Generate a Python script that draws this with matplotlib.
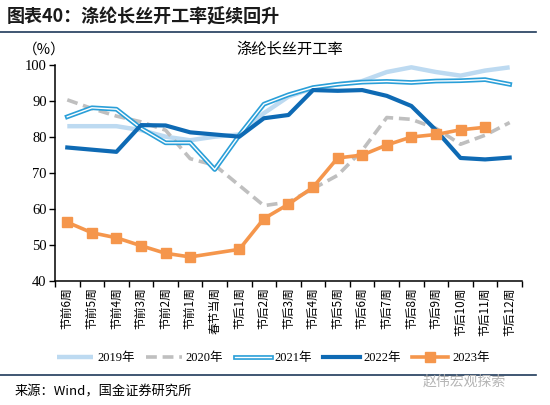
import numpy as np
import matplotlib
matplotlib.use('Agg')
import matplotlib.pyplot as plt
import matplotlib.patheffects as pe
from matplotlib.lines import Line2D

plt.rcParams['font.family'] = ['Liberation Serif', 'Noto Sans CJK SC', 'DejaVu Sans']

weeks = ['节前6周', '节前5周', '节前4周', '节前3周', '节前2周', '节前1周', '春节当周',
         '节后1周', '节后2周', '节后3周', '节后4周', '节后5周', '节后6周', '节后7周',
         '节后8周', '节后9周', '节后10周', '节后11周', '节后12周']
y2019 = [83.0, 83.0, 83.0, 81.9, 80.1, 79.1, 80.1, 80.7, 86.6, 91.2, 93.5, 94.6,
         95.5, 98.0, 99.3, 98.0, 97.0, 98.4, 99.3]
y2020 = [90.3, 87.9, 85.8, 84.2, 81.9, 74.0, 72.2, 66.6, 61.0, 62.0, 65.7, 69.4,
         76.3, 85.4, 84.9, 82.4, 78.0, 80.5, 84.0]
y2021 = [85.6, 88.1, 87.7, 82.4, 78.4, 78.4, 71.0, 80.5, 89.1, 91.7, 93.7, 94.6,
         95.2, 95.4, 95.1, 95.5, 95.6, 95.9, 94.6]
y2022 = [77.1, 76.5, 75.9, 83.3, 83.2, 81.3, 80.7, 80.1, 85.2, 86.1, 93.0, 92.8,
         93.0, 91.4, 88.6, 81.9, 74.2, 73.8, 74.3]
y2023 = [56.4, 53.5, 52.1, 49.9, 47.8, 46.8, np.nan, 48.9, 57.4, 61.4, 66.1, 74.2,
         75.0, 77.8, 80.0, 80.7, 82.0, 82.7, np.nan]

x = np.arange(len(weeks))

fig = plt.figure(figsize=(5.5, 4.05), dpi=100)
ax = fig.add_axes([0.1, 0.305, 0.849, 0.535])

ax.plot(x, y2019, color='#BDDAF1', lw=3.2, label='2019年', solid_capstyle='butt')
ax.plot(x, y2020, color='#BFBFBF', lw=2.6, ls=(0, (3, 1.6)), label='2020年')
ax.plot(x, y2021, color='white', lw=1.0, label='2021年',
        path_effects=[pe.Stroke(linewidth=3.4, foreground='#2A9FD8'), pe.Normal()])
ax.plot(x, y2022, color='#0E6AB4', lw=3.0, label='2022年')
a23 = np.array(y2023)
ok = ~np.isnan(a23)
ax.plot(x[ok], a23[ok], color='#F5964C', lw=2.6, marker='s', ms=7, label='2023年')

ax.set_xlim(-0.5, len(weeks) - 0.5)
ax.set_ylim(40, 100)
ax.set_yticks(range(40, 101, 10))
ax.set_xticks(x)
ax.set_xticklabels(weeks, rotation=90, fontsize=8.5, family=['Noto Sans CJK SC'])
ax.set_xticks(np.arange(-0.5, len(weeks), 1), minor=True)
ax.tick_params(axis='x', which='major', length=0, pad=4)
ax.tick_params(axis='x', which='minor', length=4, direction='out', width=1)
ax.tick_params(axis='y', length=4, direction='out', width=1, labelsize=10.5, pad=2)
for s in ['top', 'right']:
    ax.spines[s].set_visible(False)
for s in ['left', 'bottom']:
    ax.spines[s].set_linewidth(1.1)

fig.text(0.042, 0.877, '（%）', fontsize=10.5, va='center', family=['Noto Sans CJK SC'])
fig.text(0.527, 0.877, '涤纶长丝开工率', fontsize=11, ha='center', va='center',
         family=['Noto Sans CJK SC'])

fig.text(0.012, 0.957, '图表40：涤纶长丝开工率延续回升', fontsize=13, fontweight='bold',
         fontstyle='italic', va='center', color='#1A1A1A', family=['Noto Sans CJK SC'])
fig.add_artist(Line2D([0.0, 0.975], [0.921, 0.921], color='#1F3A5A', lw=1.2))
fig.add_artist(Line2D([0.0, 0.975], [0.074, 0.074], color='#1F3A5A', lw=1.2))

leg = fig.legend(loc='center', bbox_to_anchor=(0.497, 0.116), ncol=5, frameon=False,
                 handlelength=2.9, columnspacing=0.9, handletextpad=0.3,
                 prop={'family': ['Liberation Serif', 'Noto Sans CJK SC'], 'size': 9})

fig.text(0.027, 0.033, '来源：Wind，国金证券研究所', fontsize=9.5, va='center',
         family=['Noto Sans CJK SC'])
fig.text(0.92, 0.058, '赵伟宏观探索', fontsize=10, va='center', ha='right', color='#B5B5B5',
         family=['Noto Sans CJK SC'])

fig.savefig('out.png', dpi=100)
